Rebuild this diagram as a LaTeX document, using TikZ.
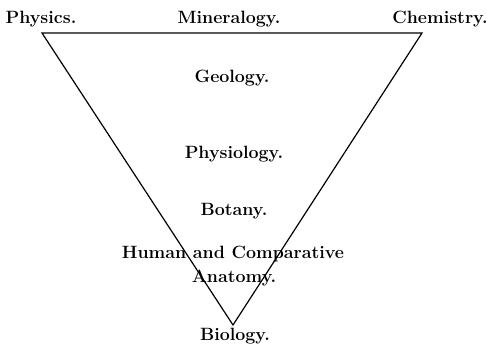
\documentclass[tikz,border=0pt]{standalone}
\usetikzlibrary{positioning}
\tikzset{lbl/.style={font=\fontsize{17.8}{21}\selectfont\bfseries, inner sep=0pt, anchor=base}}

\begin{document}
\begin{tikzpicture}[x=1pt,y=-1pt]
        \useasboundingbox (0,0) rectangle (487,349);
        \coordinate (phy) at (42,33);
        \coordinate (chem) at (422,33);
        \coordinate (bio) at (233,325);
        \draw[line width=1.2pt] (phy) -- (chem) -- (bio) -- cycle;
        %
        \node[lbl] (physics) at (41,23) {Physics.};
        \node[lbl] (mineralogy) at (229,23) {Mineralogy.};
        \node[lbl] (chemistry) at (440,23) {Chemistry.};
        \node[lbl] (geology) at (232,82) {Geology.};
        \node[lbl] (physiology) at (234,158) {Physiology.};
        \node[lbl] (botany) at (234,215) {Botany.};
        \node[lbl] (human) at (233,258) {Human and Comparative};
        \node[lbl] (anatomy) at (234,282) {Anatomy.};
        \node[lbl] (biology) at (235,340) {Biology.};
\end{tikzpicture}
\end{document}
